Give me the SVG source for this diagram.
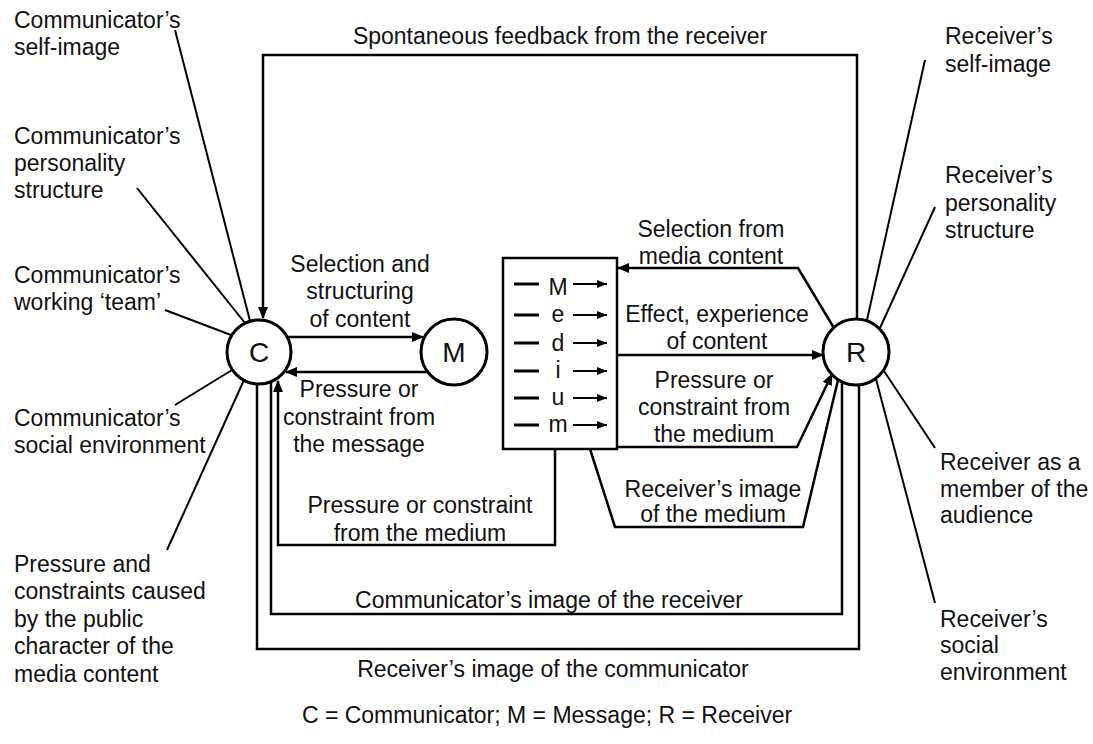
<svg xmlns="http://www.w3.org/2000/svg" width="1093" height="744" viewBox="0 0 1093 744">
<defs>
<style>
text{font-family:"Liberation Sans",Arial,Helvetica,sans-serif;font-size:23px;fill:#111}
.c{text-anchor:middle}
.big{font-size:28px}
.node{fill:#fff;stroke:#000;stroke-width:3}
.ln{fill:none;stroke:#000;stroke-width:2.5}
.rd{fill:none;stroke:#000;stroke-width:2}
.dash{stroke:#000;stroke-width:3}
.sa{stroke:#000;stroke-width:2;marker-end:url(#sa)}
</style>
<marker id="ah" markerUnits="userSpaceOnUse" markerWidth="12" markerHeight="10" refX="11" refY="5" orient="auto"><path d="M0,0 L12,5 L0,10 z" fill="#000"/></marker>
<marker id="sa" markerUnits="userSpaceOnUse" markerWidth="10" markerHeight="8" refX="10" refY="4" orient="auto"><path d="M0,0 L10,4 L0,8 z" fill="#000"/></marker>
</defs>
<rect width="1093" height="744" fill="#fff"/>

<g id="connectors">
<path class="ln" d="M857,319 V55 H263 V318" marker-end="url(#ah)"/>
<path class="ln" d="M288,337 H423" marker-end="url(#ah)"/>
<path class="ln" d="M427,372 H286" marker-end="url(#ah)"/>
<path class="ln" d="M834,328 L798,268 H618" marker-end="url(#ah)"/>
<path class="ln" d="M617,355 H823" marker-end="url(#ah)"/>
<path class="ln" d="M618,447 H797 L832,374" marker-end="url(#ah)"/>
<path class="ln" d="M590,449 L615,527 H803 L838,380"/>
<path class="ln" d="M555,449 V545 H278 V381" marker-end="url(#ah)"/>
<path class="ln" d="M271,382 V614 H842 V382"/>
<path class="ln" d="M257,384 V649 H859 V385"/>
<line class="rd" x1="175" y1="30" x2="250" y2="321"/>
<line class="rd" x1="137" y1="188" x2="245" y2="323"/>
<line class="rd" x1="165" y1="310" x2="231" y2="335"/>
<line class="rd" x1="175" y1="405" x2="232" y2="370"/>
<line class="rd" x1="167" y1="550" x2="244" y2="380"/>
<line class="rd" x1="925" y1="60" x2="867" y2="320"/>
<line class="rd" x1="935" y1="207" x2="880" y2="328"/>
<line class="rd" x1="884" y1="371" x2="935" y2="448"/>
<line class="rd" x1="876" y1="379" x2="935" y2="603"/>
</g>

<g id="node-C"><circle class="node" cx="259" cy="352" r="32"/><text class="c big" x="259" y="362">C</text></g>
<g id="node-M"><circle class="node" cx="454" cy="352" r="33"/><text class="c big" x="454" y="362">M</text></g>
<g id="node-R"><circle class="node" cx="856" cy="352" r="33"/><text class="c big" x="856" y="362">R</text></g>

<g id="node-medium">
<rect x="503" y="258" width="114" height="191" fill="#fff" stroke="#000" stroke-width="2.5"/>
<line class="dash" x1="514" y1="284" x2="539" y2="284"/><text class="c" x="558" y="295">M</text><line class="sa" x1="573" y1="284" x2="607" y2="284"/>
<line class="dash" x1="514" y1="315" x2="539" y2="315"/><text class="c" x="558" y="322">e</text><line class="sa" x1="573" y1="315" x2="607" y2="315"/>
<line class="dash" x1="514" y1="343" x2="539" y2="343"/><text class="c" x="558" y="351">d</text><line class="sa" x1="573" y1="343" x2="607" y2="343"/>
<line class="dash" x1="514" y1="371" x2="539" y2="371"/><text class="c" x="558" y="378">i</text><line class="sa" x1="573" y1="371" x2="607" y2="371"/>
<line class="dash" x1="514" y1="398" x2="539" y2="398"/><text class="c" x="558" y="405">u</text><line class="sa" x1="573" y1="398" x2="607" y2="398"/>
<line class="dash" x1="514" y1="425" x2="539" y2="425"/><text class="c" x="558" y="432">m</text><line class="sa" x1="573" y1="425" x2="607" y2="425"/>
</g>

<g id="label-feedback"><text class="c" x="560" y="44">Spontaneous feedback from the receiver</text></g>
<g id="label-selection"><text class="c" x="360" y="272">Selection and</text><text class="c" x="360" y="299">structuring</text><text class="c" x="360" y="327">of content</text></g>
<g id="label-pressure-message"><text class="c" x="359" y="397">Pressure or</text><text class="c" x="359" y="425">constraint from</text><text class="c" x="359" y="452">the message</text></g>
<g id="label-selection-media"><text class="c" x="711" y="237">Selection from</text><text class="c" x="711" y="264">media content</text></g>
<g id="label-effect"><text class="c" x="717" y="322">Effect, experience</text><text class="c" x="717" y="349">of content</text></g>
<g id="label-pressure-medium-r"><text class="c" x="714" y="388">Pressure or</text><text class="c" x="714" y="415">constraint from</text><text class="c" x="714" y="442">the medium</text></g>
<g id="label-receiver-medium"><text class="c" x="713" y="497">Receiver’s image</text><text class="c" x="713" y="522">of the medium</text></g>
<g id="label-pressure-medium-c"><text class="c" x="420" y="513">Pressure or constraint</text><text class="c" x="420" y="541">from the medium</text></g>
<g id="label-comm-image"><text class="c" x="549" y="608">Communicator’s image of the receiver</text></g>
<g id="label-recv-image"><text class="c" x="553" y="677">Receiver’s image of the communicator</text></g>
<g id="label-legend"><text class="c" x="547" y="723">C = Communicator; M = Message; R = Receiver</text></g>

<g id="label-c-self"><text x="14" y="28">Communicator’s</text><text x="14" y="55">self-image</text></g>
<g id="label-c-personality"><text x="14" y="144">Communicator’s</text><text x="14" y="171">personality</text><text x="14" y="198">structure</text></g>
<g id="label-c-team"><text x="14" y="283">Communicator’s</text><text x="14" y="310">working ‘team’</text></g>
<g id="label-c-social"><text x="14" y="426">Communicator’s</text><text x="14" y="453">social environment</text></g>
<g id="label-c-public"><text x="14" y="572">Pressure and</text><text x="14" y="599">constraints caused</text><text x="14" y="627">by the public</text><text x="14" y="654">character of the</text><text x="14" y="682">media content</text></g>

<g id="label-r-self"><text x="945" y="44">Receiver’s</text><text x="945" y="72">self-image</text></g>
<g id="label-r-personality"><text x="945" y="183">Receiver’s</text><text x="945" y="211">personality</text><text x="945" y="238">structure</text></g>
<g id="label-r-audience"><text x="940" y="470">Receiver as a</text><text x="940" y="497">member of the</text><text x="940" y="523">audience</text></g>
<g id="label-r-social"><text x="940" y="627">Receiver’s</text><text x="940" y="653">social</text><text x="940" y="680">environment</text></g>
</svg>
